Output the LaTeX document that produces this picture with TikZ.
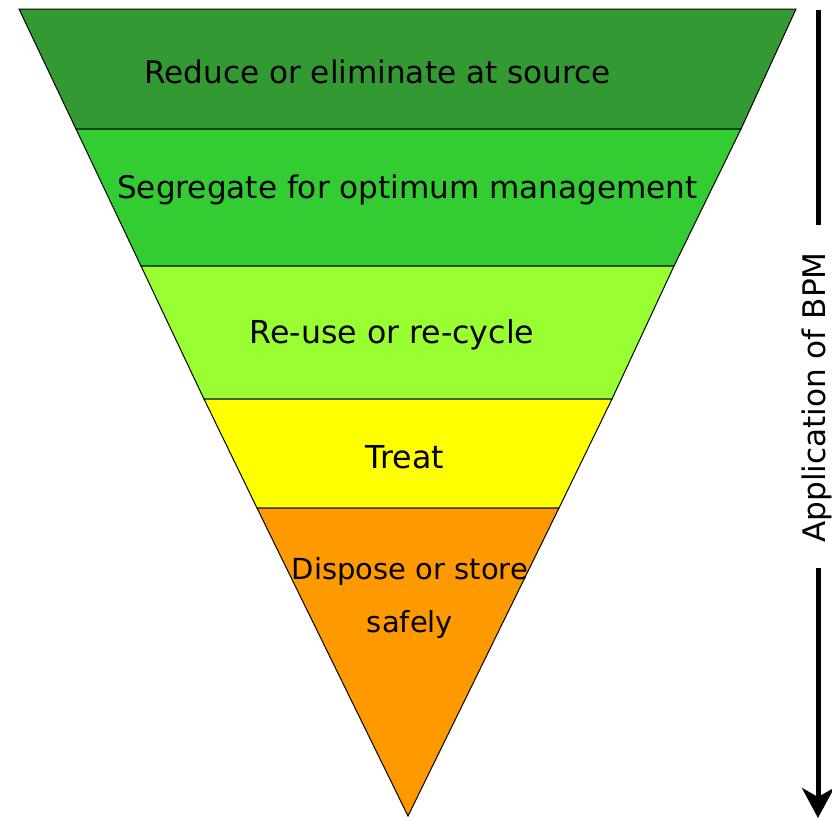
\documentclass[tikz,border=0pt]{standalone}
\usepackage{fontspec}
\setmainfont{DejaVu Sans}
\usetikzlibrary{arrows.meta}
\definecolor{bandA}{HTML}{339933}
\definecolor{bandB}{HTML}{33CC33}
\definecolor{bandC}{HTML}{99FF33}
\definecolor{bandD}{HTML}{FFFF00}
\definecolor{bandE}{HTML}{FF9900}
\begin{document}
\begin{tikzpicture}[x=1pt,y=-1pt,
  band/.style={draw=black,line width=1pt,line join=miter},
  lbl/.style={anchor=base,inner sep=0pt,font=\fontsize{31.1}{36}\selectfont},
  lblbig/.style={lbl,font=\fontsize{31.6}{36}\selectfont},
  lblsmall/.style={lbl,font=\fontsize{29}{34}\selectfont},
  bpm/.style={line width=5pt,draw=black}]
\useasboundingbox (0,0) rectangle (832,819);
% funnel corners
\coordinate (a1) at (19,9);   \coordinate (a2) at (796,9);
\coordinate (b1) at (76,129); \coordinate (b2) at (741,129);
\coordinate (c1) at (141,266);\coordinate (c2) at (674,266);
\coordinate (d1) at (204,399);\coordinate (d2) at (612,399);
\coordinate (e1) at (257,508);\coordinate (e2) at (559,508);
\coordinate (tip) at (408,816);
% bands of the inverted pyramid
\draw[band,fill=bandA] (a1) -- (a2) -- (b2) -- (b1) -- cycle;
\draw[band,fill=bandB] (b1) -- (b2) -- (c2) -- (c1) -- cycle;
\draw[band,fill=bandC] (c1) -- (c2) -- (d2) -- (d1) -- cycle;
\draw[band,fill=bandD] (d1) -- (d2) -- (e2) -- (e1) -- cycle;
\draw[band,fill=bandE] (e1) -- (e2) -- (tip) -- cycle;
% band labels
\node[lbl] (t1) at (377.5,83) {Reduce or eliminate at source};
\node[lbl] (t2) at (407.5,198) {Segregate for optimum management};
\node[lblbig] (t3) at (392,343) {Re-use or re-cycle};
\node[lblbig] (t4) at (405,468) {Treat};
\node[lblsmall] (t5) at (410,579) {Dispose or store};
\node[lblsmall] (t6) at (410,632) {safely};
% direction of application
\node[lbl,rotate=90] (bpmlabel) at (825,397.5) {Application of BPM};
\coordinate (ptop) at (818,10);
\coordinate (pmid1) at (818,225);
\coordinate (pmid2) at (818,568);
\coordinate (pend) at (818,818);
\draw[bpm] (ptop) -- (pmid1);
\draw[bpm,-{Stealth[length=30pt,width=32pt,inset=9pt]}] (pmid2) -- (pend);
\end{tikzpicture}
\end{document}
